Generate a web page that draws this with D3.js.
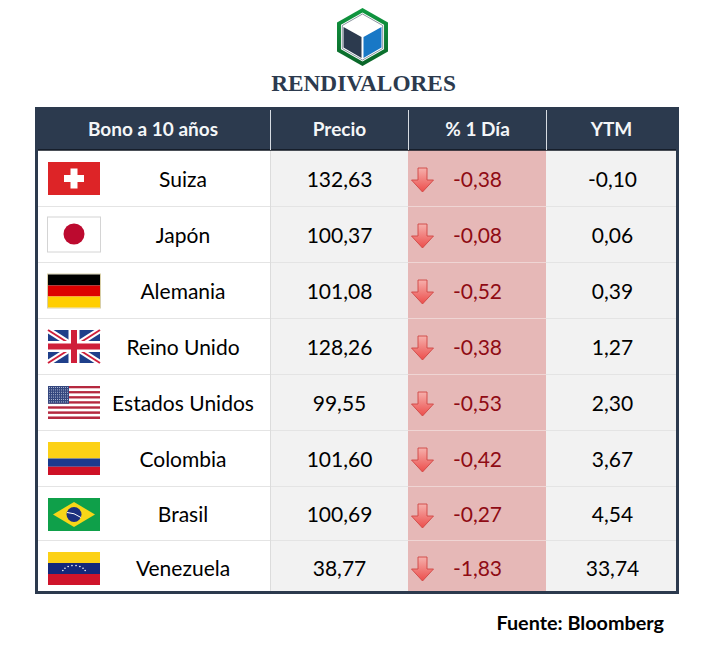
<!DOCTYPE html>
<html><head><meta charset="utf-8">
<script src="https://cdn.jsdelivr.net/npm/d3@7/dist/d3.min.js"></script>
<style>html,body{margin:0;padding:0;background:#fff}svg{display:block}</style></head>
<body><svg id="c" width="720" height="657"></svg>
<script>
const headers=["Bono a 10 años","Precio","% 1 Día","YTM"];
const countries=["Suiza","Japón","Alemania","Reino Unido","Estados Unidos","Colombia","Brasil","Venezuela"];
const flags=["ch","jp","de","uk","us","co","br","ve"];
const prices=["132,63","100,37","101,08","128,26","99,55","101,60","100,69","38,77"];
const changes=["-0,38","-0,08","-0,52","-0,38","-0,53","-0,42","-0,27","-1,83"];
const ytm=["-0,10","0,06","0,39","1,27","2,30","3,67","4,54","33,74"];

const svg=d3.select("#c");
const FONT="Lato, 'Open Sans', sans-serif";
const x=d3.scaleLinear().domain([0,1,2,3,4]).range([38,270,408,546,676]);
const y=d3.scaleLinear().domain([0,6,7,8]).range([150,486,540,591]);
const rows=d3.range(countries.length);
const NAVY="#2c3a4e";
const defs=svg.append("defs");

// logo
const hex=(cx,cy,r)=>d3.range(6).map(i=>{const a=Math.PI/3*i-Math.PI/2;return [cx+r*1.015*Math.cos(a),cy+r*Math.sin(a)];});
const g1=defs.append("linearGradient").attr("id","gr").attr("x1",0).attr("x2",0).attr("y1",0).attr("y2",1);
g1.append("stop").attr("offset",0).attr("stop-color","#109a41");
g1.append("stop").attr("offset",1).attr("stop-color","#0a6428");
const logo=svg.append("g");
const line=d3.line().curve(d3.curveLinearClosed);
logo.append("path").attr("d",line(hex(362.5,37,29))).attr("fill","url(#gr)");
logo.append("path").attr("d",line(hex(362.5,37,24.5))).attr("fill","#fff");
logo.append("path").attr("d",line(hex(362.5,37,23))).attr("fill","none").attr("stroke","#3a4a5c").attr("stroke-width",.6);
logo.append("path").attr("d",line([[343.5,27],[361.5,37],[361.5,58],[343.5,47.5]])).attr("fill",NAVY);
logo.append("path").attr("d",line([[363.5,37],[381.5,27],[381.5,47.5],[363.5,58]])).attr("fill","#1878c6");
svg.append("text").attr("x",363.5).attr("y",90.5).attr("text-anchor","middle")
  .attr("font-family","'Liberation Serif',serif").attr("font-weight",700).attr("font-size",23.3)
  .attr("fill",NAVY).text("RENDIVALORES");

// table frame
svg.append("rect").attr("x",35).attr("y",107).attr("width",644).attr("height",487).attr("fill",NAVY);
// body cells
const colFill=["#ffffff","#f2f2f2","#e6b8b7","#f2f2f2"];
colFill.forEach((f,c)=>{
  svg.append("g").selectAll("rect").data(rows).join("rect")
    .attr("x",x(c)).attr("width",x(c+1)-x(c))
    .attr("y",d=>y(d)).attr("height",d=>y(d+1)-y(d)).attr("fill",f);
});
// grid lines
svg.append("g").selectAll("line").data(rows.slice(1)).join("line")
  .attr("x1",x(0)).attr("x2",x(4)).attr("y1",d=>y(d)+.5).attr("y2",d=>y(d)+.5)
  .attr("stroke","#e4e4e4").attr("stroke-width",1);
svg.append("g").selectAll("line").data(rows.slice(1)).join("line")
  .attr("x1",x(2)).attr("x2",x(3)).attr("y1",d=>y(d)+.5).attr("y2",d=>y(d)+.5)
  .attr("stroke","#efd5d4").attr("stroke-width",1);
svg.append("line").attr("x1",x(1)+.5).attr("x2",x(1)+.5).attr("y1",y(0)).attr("y2",y(8)).attr("stroke","#dcdcdc");
svg.append("line").attr("x1",x(0)).attr("x2",x(4)).attr("y1",150).attr("y2",150).attr("stroke","#0f1620").attr("stroke-width",1.5);
// header
svg.append("g").selectAll("line").data([1,2,3]).join("line")
  .attr("x1",d=>x(d)+.5).attr("x2",d=>x(d)+.5).attr("y1",110).attr("y2",150)
  .attr("stroke","#d6dbe2").attr("stroke-width",1);
svg.append("g").selectAll("text").data(headers).join("text")
  .attr("x",(d,i)=>i==0?153:(x(i)+x(i+1))/2+.5).attr("y",129).attr("dy",".35em")
  .attr("text-anchor","middle").attr("font-family",FONT).attr("font-weight",700)
  .attr("font-size",19).attr("fill","#f4f6f8").text(d=>d);

// body text
const textY=i=>y(i)+(i==7?28:i==6?28:29);
const col=(vals,cx,fill)=>svg.append("g").selectAll("text").data(vals).join("text")
  .attr("x",cx).attr("y",(d,i)=>textY(i)+.4).attr("dy",".36em").attr("text-anchor","middle")
  .attr("font-family",FONT).attr("font-size",21).attr("fill",fill).text(d=>d);
col(countries,183,"#000");
col(prices,(x(1)+x(2))/2+.5,"#000");
col(changes,477.5,"#8f0b14");
col(ytm,(x(3)+x(4))/2+1.5,"#000");

// arrows
const ag=defs.append("linearGradient").attr("id","ar").attr("x1",0).attr("x2",0).attr("y1",0).attr("y2",1);
ag.append("stop").attr("offset",0).attr("stop-color","#f6b0ac");
ag.append("stop").attr("offset",1).attr("stop-color","#ec4d4b");
svg.append("g").selectAll("path").data(rows).join("path")
  .attr("transform",d=>`translate(422.5,${y(d)+(d==7?17:18)})`)
  .attr("d","M-4.5,0H4.5V12H11L0,24L-11,12H-4.5Z")
  .attr("fill","url(#ar)").attr("stroke","#cf4644").attr("stroke-width",.9);

// flags
const W=52,H=33;
const stripes=(g,list)=>{let t=0;const tot=d3.sum(list,d=>d[1]);list.forEach(([c,v])=>{
  g.append("rect").attr("y",t*H/tot).attr("width",W).attr("height",v*H/tot).attr("fill",c);t+=v;});};
const draw={
 ch(g){g.append("rect").attr("width",W).attr("height",H).attr("fill","#dd2427");
   g.append("rect").attr("x",W/2-10).attr("y",H/2-3.5).attr("width",20).attr("height",7).attr("fill","#fff");
   g.append("rect").attr("x",W/2-3.5).attr("y",H/2-10).attr("width",7).attr("height",20).attr("fill","#fff");},
 jp(g){g.append("rect").attr("x",-.5).attr("y",-1.5).attr("width",W+1).attr("height",H+2).attr("fill","#fff").attr("stroke","#d4d4d4");
   g.append("circle").attr("cx",W/2).attr("cy",H/2-1).attr("r",10.5).attr("fill","#bc0a2f");},
 de(g){g.append("rect").attr("x",-.5).attr("y",-.5).attr("width",W+1).attr("height",H+1).attr("fill","none").attr("stroke","#d8cfa8");
   stripes(g,[["#000",1],["#dd0000",1],["#ffce00",1]]);},
 uk(g){g.append("rect").attr("width",W).attr("height",H).attr("fill","#1f3f8a");
   const diag=(c,w)=>{[[0,0,W,H],[0,H,W,0]].forEach(l=>g.append("line").attr("x1",l[0]).attr("y1",l[1]).attr("x2",l[2]).attr("y2",l[3]).attr("stroke",c).attr("stroke-width",w));};
   diag("#fff",6);diag("#cf1f3a",2);
   g.append("rect").attr("x",W/2-5.5).attr("width",11).attr("height",H).attr("fill","#fff");
   g.append("rect").attr("y",H/2-5.5).attr("width",W).attr("height",11).attr("fill","#fff");
   g.append("rect").attr("x",W/2-3).attr("width",6).attr("height",H).attr("fill","#cf1f3a");
   g.append("rect").attr("y",H/2-3).attr("width",W).attr("height",6).attr("fill","#cf1f3a");},
 us(g){stripes(g,d3.range(13).map(i=>[i%2?"#fff":"#b5283f",1]));
   g.append("rect").attr("width",21).attr("height",H*7/13).attr("fill","#34477f");
   const p=g.append("g").attr("fill","#aab3cf");
   d3.range(7).forEach(r=>d3.range(10).forEach(c=>p.append("rect").attr("x",1+c*2).attr("y",1+r*2.4).attr("width",1).attr("height",1)));},
 co(g){stripes(g,[["#fcd116",2],["#1a3a8f",1],["#ce1126",1]]);},
 br(g){g.append("rect").attr("width",W).attr("height",H).attr("fill","#0fa04a");
   g.append("path").attr("d",`M${W/2},4L${W-5},${H/2}L${W/2},${H-4}L5,${H/2}Z`).attr("fill","#f7d618");
   g.append("circle").attr("cx",W/2).attr("cy",H/2).attr("r",7.5).attr("fill","#1b2f7f");
   g.append("path").attr("d",`M${W/2-7},${H/2-2}Q${W/2},${H/2-2} ${W/2+7},${H/2+3}`).attr("fill","none").attr("stroke","#fff").attr("stroke-width",1);},
 ve(g){stripes(g,[["#fcd116",1],["#14287a",1],["#cf142b",1]]);
   d3.range(8).forEach(i=>{const a=Math.PI*(0.12+i*0.76/7);
     g.append("circle").attr("cx",W/2-12*Math.cos(a)).attr("cy",H/2+5-8*Math.sin(a)).attr("r",.8).attr("fill","#fff");});}
};
const flagTop=[12,12.5,12.5,12,12,12,12,12];
rows.forEach(i=>{
  const g=svg.append("g").attr("transform",`translate(48,${y(i)+flagTop[i]})`);
  draw[flags[i]](g);
});

svg.append("text").attr("x",664).attr("y",623).attr("dy",".35em").attr("text-anchor","end")
 .attr("font-family",FONT).attr("font-weight",700).attr("font-size",19.8).attr("fill","#000").text("Fuente: Bloomberg");
</script></body></html>
